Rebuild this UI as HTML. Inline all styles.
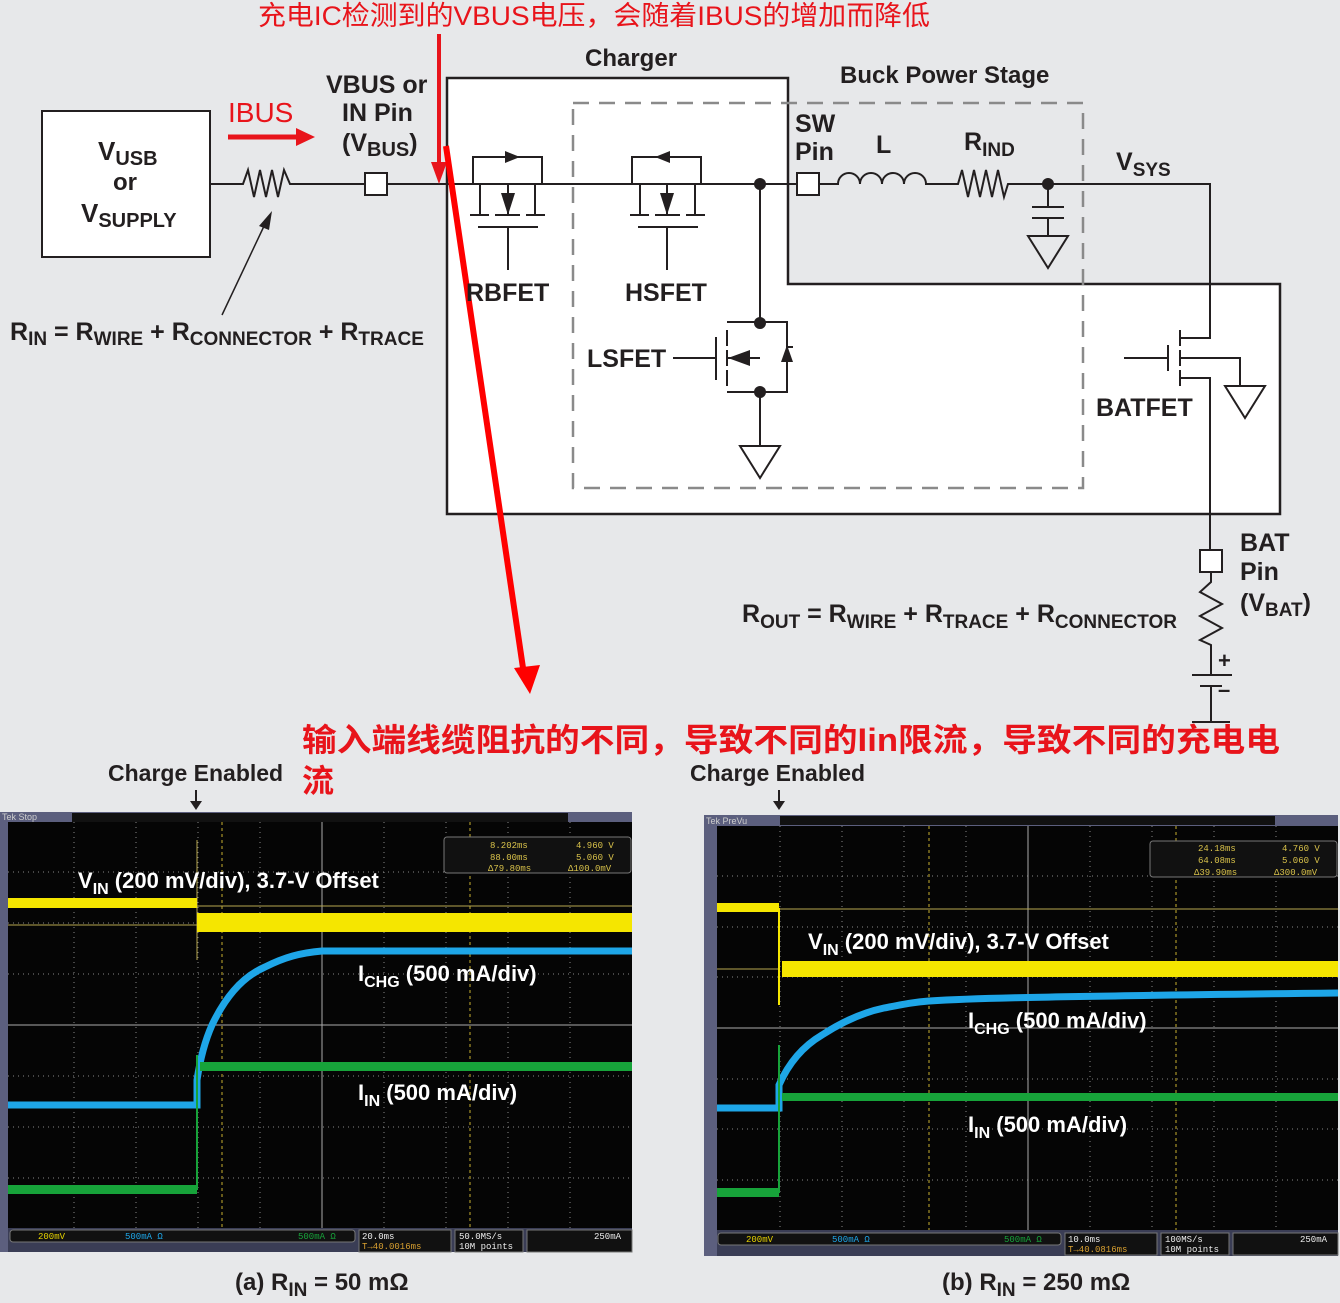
<!DOCTYPE html>
<html><head><meta charset="utf-8"><style>
html,body{margin:0;padding:0;background:#e7e8ea;}
svg{display:block}
.t{font-family:"Liberation Sans",sans-serif;font-weight:bold;fill:#231f20}
.r{font-family:"Liberation Sans","Noto Sans CJK SC",sans-serif;fill:#e8141b}
.w{font-family:"Liberation Sans",sans-serif;font-weight:bold;fill:#fff}
.m{font-family:"Liberation Mono",monospace;font-size:9px}
</style></head><body>
<svg width="1340" height="1303" viewBox="0 0 1340 1303" xmlns="http://www.w3.org/2000/svg">
<rect width="1340" height="1303" fill="#e7e8ea"/>
<!-- charger box -->
<path d="M447 78H788V284H1280V514H447Z" fill="#fff" stroke="#231f20" stroke-width="2.5"/>
<rect x="573" y="103" width="510" height="385" fill="none" stroke="#8a8a8a" stroke-width="2.5" stroke-dasharray="16,10"/>
<!-- source box -->
<rect x="42" y="111" width="168" height="146" fill="#fff" stroke="#231f20" stroke-width="2"/>
<g stroke="#231f20" stroke-width="2" fill="none">
<path d="M210 184H243L248 170L254 197L260 170L266 197L272 170L278 197L284 170L290 184H365"/>
<rect x="365" y="173" width="22" height="22" fill="#fff"/>
<path d="M387 184H797"/>
<rect x="797" y="173" width="22" height="22" fill="#fff"/>
<path d="M819 184H838 a11 11 0 0 1 22 0 a11 11 0 0 1 22 0 a11 11 0 0 1 22 0 a11 11 0 0 1 22 0 H958L962 170L968 197L974 170L980 197L986 170L992 197L998 170L1004 197L1008 184H1210V338H1180"/>
<path d="M473 184V157H542V184"/>
<path d="M480 184V215M535 184V215M470 215H489M495 215H520M526 215H545M508 184V215M478 227H538M508 227V270"/>
<path d="M632 184V157H701V184"/>
<path d="M640 184V215M695 184V215M630 215H649M655 215H680M686 215H705M667 184V215M638 227H698M667 227V270"/>
<path d="M760 184V322H727M760 322H787V392H760M727 392H760V446"/>
<path d="M716 337V380M727 330V346M727 350V366M727 370V386M727 358H760M673 358H716M787 347H793"/>
<path d="M740 446H780L760 478Z"/>
<path d="M1048 184V206M1032 207H1064M1032 218H1064M1048 218V236M1028 236H1068L1048 268Z"/>
<path d="M1124 358H1168M1168 345V371M1180 330V346M1180 350V366M1180 370V386M1180 338H1210M1180 378H1210V550M1180 358H1240V386M1225 386H1265L1245 418Z"/>
<rect x="1200" y="550" width="22" height="22" fill="#fff"/>
<path d="M1211 572V582L1200 592L1222 604L1200 616L1222 628L1200 640L1211 645V675M1192 675H1232M1200 686H1222M1211 686V722M1192 722H1230"/>
</g>
<g fill="#231f20">
<circle cx="760" cy="184" r="6"/><circle cx="1048" cy="184" r="6"/><circle cx="760" cy="323" r="6"/><circle cx="760" cy="392" r="6"/>
<path d="M505 151L520 157L505 163Z"/><path d="M670 151L655 157L670 163Z"/>
<path d="M501 193H515L508 215Z"/><path d="M660 193H674L667 215Z"/>
<path d="M728 358L750 350V366Z"/><path d="M781 362L787 345L793 362Z"/>
<path d="M259 226L272 211L269 230Z"/>
</g>
<path d="M222 315L265 224" stroke="#231f20" stroke-width="1.5"/>
<path d="M228 137H298" stroke="#e8141b" stroke-width="5"/><path d="M296 128L315 137L296 146Z" fill="#e8141b"/>
<path d="M439 34V165" stroke="#e8141b" stroke-width="4"/><path d="M431 162L439 184L447 162Z" fill="#e8141b"/>
<path d="M446 146L523 668" stroke="#ff0000" stroke-width="6"/><path d="M514 668L530 694L540 665Z" fill="#ff0000"/>
<text class="r" x="258" y="25" font-size="27" textLength="672" lengthAdjust="spacingAndGlyphs">充电IC检测到的VBUS电压，会随着IBUS的增加而降低</text>
<text class="r" x="228" y="122" font-size="28">IBUS</text>
<text class="r" x="302" y="751" font-size="32" font-weight="bold" textLength="978" lengthAdjust="spacingAndGlyphs">输入端线缆阻抗的不同，导致不同的Iin限流，导致不同的充电电</text>
<text class="r" x="302" y="792" font-size="32" font-weight="bold">流</text>
<g class="t">
<text x="98" y="160" font-size="26">V<tspan font-size="20" dy="5">USB</tspan></text>
<text x="113" y="190" font-size="24">or</text>
<text x="81" y="222" font-size="26">V<tspan font-size="20" dy="5">SUPPLY</tspan></text>
<text x="326" y="93" font-size="25">VBUS or</text>
<text x="342" y="121" font-size="25">IN Pin</text>
<text x="342" y="151" font-size="25">(V<tspan font-size="20" dy="5">BUS</tspan><tspan dy="-5">)</tspan></text>
<text x="10" y="340" font-size="25">R<tspan font-size="19" dy="5">IN</tspan><tspan dy="-5"> = R</tspan><tspan font-size="19" dy="5">WIRE</tspan><tspan dy="-5"> + R</tspan><tspan font-size="19" dy="5">CONNECTOR</tspan><tspan dy="-5"> + R</tspan><tspan font-size="19" dy="5">TRACE</tspan></text>
<text x="585" y="66" font-size="24">Charger</text>
<text x="840" y="83" font-size="24">Buck Power Stage</text>
<text x="795" y="132" font-size="25">SW</text>
<text x="795" y="160" font-size="25">Pin</text>
<text x="876" y="153" font-size="25">L</text>
<text x="964" y="150" font-size="25">R<tspan font-size="19" dy="6">IND</tspan></text>
<text x="1116" y="170" font-size="25">V<tspan font-size="19" dy="6">SYS</tspan></text>
<text x="466" y="301" font-size="25">RBFET</text>
<text x="625" y="301" font-size="25">HSFET</text>
<text x="587" y="367" font-size="25">LSFET</text>
<text x="1096" y="416" font-size="25">BATFET</text>
<text x="1240" y="551" font-size="25">BAT</text>
<text x="1240" y="580" font-size="25">Pin</text>
<text x="1240" y="611" font-size="25">(V<tspan font-size="19" dy="5">BAT</tspan><tspan dy="-5">)</tspan></text>
<text x="742" y="622" font-size="25">R<tspan font-size="19" dy="6">OUT</tspan><tspan dy="-6"> = R</tspan><tspan font-size="19" dy="6">WIRE</tspan><tspan dy="-6"> + R</tspan><tspan font-size="19" dy="6">TRACE</tspan><tspan dy="-6"> + R</tspan><tspan font-size="19" dy="6">CONNECTOR</tspan></text>
<text x="1218" y="668" font-size="22">+</text>
<text x="1218" y="697" font-size="22">–</text>
<text x="108" y="781" font-size="23">Charge Enabled</text>
<text x="690" y="781" font-size="23">Charge Enabled</text>
<text x="235" y="1290" font-size="24">(a) R<tspan font-size="19" dy="6">IN</tspan><tspan dy="-6"> = 50 mΩ</tspan></text>
<text x="942" y="1290" font-size="24">(b) R<tspan font-size="19" dy="6">IN</tspan><tspan dy="-6"> = 250 mΩ</tspan></text>
</g>
<path d="M196 790V803" stroke="#231f20" stroke-width="2"/><path d="M190 801H202L196 810Z" fill="#231f20"/>
<path d="M779 790V803" stroke="#231f20" stroke-width="2"/><path d="M773 801H785L779 810Z" fill="#231f20"/>

<!-- SCOPE A -->
<rect x="0" y="812" width="632" height="440" fill="#5c5f7e"/>
<rect x="8" y="822" width="624" height="406" fill="#050505"/>
<rect x="72" y="813" width="496" height="9" fill="#111"/>
<text x="2" y="820" font-family="Liberation Sans" font-size="9" fill="#ccc">Tek Stop</text>
<g stroke="#888" stroke-width="1" stroke-dasharray="1,4">
<path d="M74 822V1228M136 822V1228M198 822V1228M260 822V1228M384 822V1228M446 822V1228M508 822V1228M570 822V1228"/>
<path d="M8 872H632M8 923H632M8 974H632M8 1076H632M8 1127H632M8 1178H632"/>
</g>
<path d="M322 822V1228M8 1025H632" stroke="#aaa" stroke-width="1"/>
<path d="M222 822V1228M470 822V1228" stroke="#c8b030" stroke-width="1" stroke-dasharray="3,3"/>
<path d="M8 925H197M197 906H632" stroke="#b8a850" stroke-width="1"/>
<path d="M197 840V960" stroke="#b8a850" stroke-width="1"/>
<rect x="8" y="898" width="189" height="10" fill="#f5e600"/>
<rect x="197" y="913" width="435" height="19" fill="#f5e600"/>
<path d="M8 1105H197V1080C200 1060 204 1043 212 1025C224 1000 240 978 265 967C285 957 300 953 322 951H632" stroke="#1ea6e8" stroke-width="7" fill="none"/>
<rect x="8" y="1185" width="189" height="9" fill="#17a33a"/>
<rect x="200" y="1062" width="432" height="9" fill="#17a33a"/>
<path d="M197 1190V1055" stroke="#17a33a" stroke-width="2"/>
<rect x="444" y="837" width="187" height="36" rx="3" fill="#111" stroke="#777"/>
<g class="m" fill="#d9c24a"><text x="490" y="848">8.202ms</text><text x="490" y="860">88.00ms</text><text x="488" y="871">Δ79.80ms</text><text x="576" y="848">4.960 V</text><text x="576" y="860">5.060 V</text><text x="568" y="871">Δ100.0mV</text></g>
<text class="w" x="78" y="888" font-size="22">V<tspan font-size="16" dy="6">IN</tspan><tspan dy="-6"> (200 mV/div), 3.7-V Offset</tspan></text>
<text class="w" x="358" y="981" font-size="22">I<tspan font-size="16" dy="6">CHG</tspan><tspan dy="-6"> (500 mA/div)</tspan></text>
<text class="w" x="358" y="1100" font-size="22">I<tspan font-size="16" dy="6">IN</tspan><tspan dy="-6"> (500 mA/div)</tspan></text>
<rect x="8" y="1228" width="624" height="24" fill="#3a3d55"/>
<rect x="10" y="1230" width="345" height="12" rx="3" fill="#111" stroke="#777"/>
<rect x="359" y="1230" width="92" height="22" fill="#111" stroke="#777"/>
<rect x="455" y="1230" width="68" height="22" fill="#111" stroke="#777"/>
<rect x="527" y="1230" width="105" height="22" fill="#111" stroke="#777"/>
<g class="m"><text x="38" y="1239" fill="#e6d200">200mV</text><text x="125" y="1239" fill="#1ea6e8">500mA Ω</text><text x="298" y="1239" fill="#17a33a">500mA Ω</text><text x="362" y="1239" fill="#eee">20.0ms</text><text x="362" y="1249" fill="#d9a030">T→40.0016ms</text><text x="459" y="1239" fill="#eee">50.0MS/s</text><text x="459" y="1249" fill="#eee">10M points</text><text x="594" y="1239" fill="#eee">250mA</text></g>

<!-- SCOPE B -->
<rect x="704" y="815" width="634" height="441" fill="#5c5f7e"/>
<rect x="717" y="826" width="621" height="404" fill="#050505"/>
<rect x="780" y="816" width="495" height="9" fill="#111"/>
<text x="706" y="824" font-family="Liberation Sans" font-size="9" fill="#ccc">Tek PreVu</text>
<g stroke="#888" stroke-width="1" stroke-dasharray="1,4">
<path d="M780 826V1230M842 826V1230M904 826V1230M966 826V1230M1090 826V1230M1152 826V1230M1214 826V1230M1276 826V1230"/>
<path d="M717 876H1338M717 927H1338M717 977H1338M717 1079H1338M717 1129H1338M717 1180H1338"/>
</g>
<path d="M1028 826V1230M717 1028H1338" stroke="#aaa" stroke-width="1"/>
<path d="M929 826V1230M1176 826V1230" stroke="#c8b030" stroke-width="1" stroke-dasharray="3,3"/>
<path d="M717 969H779M779 909H1338" stroke="#b8a850" stroke-width="1"/>
<rect x="717" y="903" width="62" height="9" fill="#f5e600"/>
<path d="M779 908V1005" stroke="#f5e600" stroke-width="2"/>
<rect x="782" y="961" width="556" height="16" fill="#f5e600"/>
<path d="M717 1108H779V1085C790 1060 805 1045 822 1035C845 1020 865 1012 884 1008C905 1004 915 1002 929 1001C960 999 990 997 1338 993" stroke="#1ea6e8" stroke-width="7" fill="none"/>
<rect x="717" y="1188" width="62" height="9" fill="#17a33a"/>
<path d="M779 1193V1045" stroke="#17a33a" stroke-width="2"/>
<rect x="782" y="1093" width="556" height="8" fill="#17a33a"/>
<rect x="1150" y="841" width="187" height="36" rx="3" fill="#111" stroke="#777"/>
<g class="m" fill="#d9c24a"><text x="1198" y="851">24.18ms</text><text x="1198" y="863">64.08ms</text><text x="1194" y="875">Δ39.90ms</text><text x="1282" y="851">4.760 V</text><text x="1282" y="863">5.060 V</text><text x="1274" y="875">Δ300.0mV</text></g>
<text class="w" x="808" y="949" font-size="22">V<tspan font-size="16" dy="6">IN</tspan><tspan dy="-6"> (200 mV/div), 3.7-V Offset</tspan></text>
<text class="w" x="968" y="1028" font-size="22">I<tspan font-size="16" dy="6">CHG</tspan><tspan dy="-6"> (500 mA/div)</tspan></text>
<text class="w" x="968" y="1132" font-size="22">I<tspan font-size="16" dy="6">IN</tspan><tspan dy="-6"> (500 mA/div)</tspan></text>
<rect x="717" y="1230" width="621" height="26" fill="#3a3d55"/>
<rect x="718" y="1233" width="343" height="12" rx="3" fill="#111" stroke="#777"/>
<rect x="1065" y="1233" width="92" height="22" fill="#111" stroke="#777"/>
<rect x="1161" y="1233" width="68" height="22" fill="#111" stroke="#777"/>
<rect x="1233" y="1233" width="105" height="22" fill="#111" stroke="#777"/>
<g class="m"><text x="746" y="1242" fill="#e6d200">200mV</text><text x="832" y="1242" fill="#1ea6e8">500mA Ω</text><text x="1004" y="1242" fill="#17a33a">500mA Ω</text><text x="1068" y="1242" fill="#eee">10.0ms</text><text x="1068" y="1252" fill="#d9a030">T→40.0816ms</text><text x="1165" y="1242" fill="#eee">100MS/s</text><text x="1165" y="1252" fill="#eee">10M points</text><text x="1300" y="1242" fill="#eee">250mA</text></g>
</svg>
</body></html>
